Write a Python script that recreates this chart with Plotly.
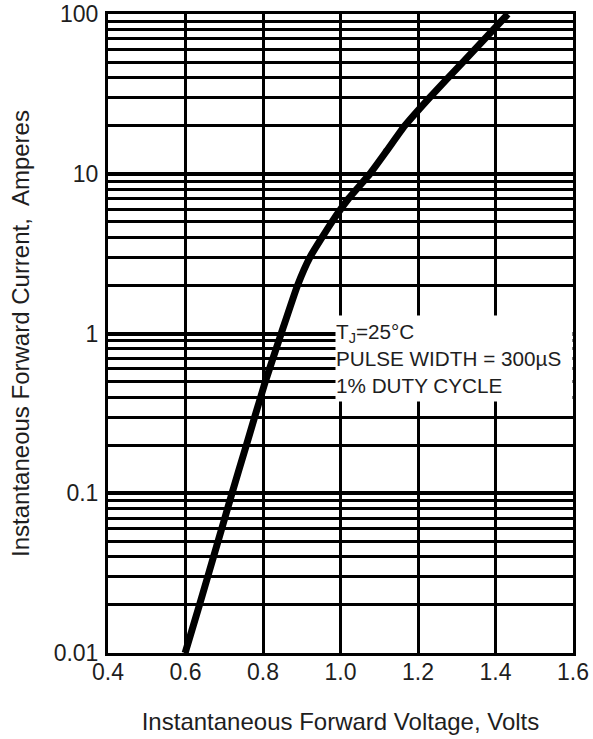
import math
import plotly.graph_objects as go

# Forward characteristic
voltage = [0.599, 0.636, 0.684, 0.720, 0.757, 0.806, 0.847, 0.889, 0.921,
           0.978, 1.021, 1.076, 1.120, 1.166, 1.230, 1.316, 1.432]
current = [0.01, 0.02, 0.05, 0.1, 0.2, 0.5, 1, 2, 3,
           5, 7, 10, 14, 20, 30, 50, 100]

x_ticks = [0.4, 0.6, 0.8, 1.0, 1.2, 1.4, 1.6]
x_labels = ["0.4", "0.6", "0.8", "1.0", "1.2", "1.4", "1.6"]
y_ticks = [0.01, 0.1, 1, 10, 100]
y_labels = ["0.01", "0.1", "1", "10", "100"]
y_minor = [m * 10 ** e for e in range(-2, 2) for m in range(2, 10)]

note_lines = ["T<sub>J</sub>=25°C", "PULSE WIDTH = 300µS", "1% DUTY CYCLE"]
note_x = 0.986      # volts, left edge of the note box
note_top = 1.306    # amperes, top edge of the note box

FONT = "Liberation Sans, Arial, sans-serif"
TXT = "#1e1e1e"

fig = go.Figure()
fig.add_trace(go.Scatter(x=voltage, y=current, mode="lines",
                         line=dict(color="black", width=7, shape="spline", smoothing=0.4),
                         showlegend=False, hoverinfo="skip"))

fig.add_annotation(x=note_x, y=math.log10(note_top), xref="x", yref="y",
                   xanchor="left", yanchor="top",
                   text="<br>".join(note_lines), showarrow=False,
                   align="left", valign="middle", width=236, height=85,
                   bgcolor="white", borderpad=0,
                   font=dict(family=FONT, size=20.7, color=TXT))

fig.update_xaxes(range=[0.4, 1.6], tickvals=x_ticks, ticktext=x_labels,
                 showgrid=True, gridcolor="black", gridwidth=3,
                 showline=True, linecolor="black", linewidth=3, mirror=True,
                 ticks="", zeroline=False, ticklabelstandoff=-4, automargin=False,
                 ticklabeloverflow="allow",
                 tickfont=dict(family=FONT, size=23, color=TXT),
                 title=dict(text="Instantaneous Forward Voltage, Volts",
                            font=dict(family=FONT, size=24, color=TXT),
                            standoff=30))
fig.update_yaxes(type="log", range=[-2, 2], tickvals=y_ticks, ticktext=y_labels,
                 showgrid=True, gridcolor="black", gridwidth=3.5,
                 minor=dict(tickvals=y_minor, showgrid=True, gridcolor="black",
                            gridwidth=2.5, ticks=""),
                 showline=True, linecolor="black", linewidth=3, mirror=True,
                 ticks="", zeroline=False, ticklabelstandoff=2, automargin=False,
                 ticklabeloverflow="allow",
                 tickfont=dict(family=FONT, size=23, color=TXT),
                 title=dict(text="Instantaneous Forward Current,  Amperes",
                            font=dict(family=FONT, size=24, color=TXT),
                            standoff=18))

fig.update_layout(width=593, height=739,
                  margin=dict(l=108, r=20, t=14, b=86, autoexpand=False),
                  plot_bgcolor="white", paper_bgcolor="white")

# remove the browser's default 8 px page margin so the figure fills the window
fig.write_html("out.html", config={"displayModeBar": False},
               post_script="document.body.style.margin='0';document.body.style.overflow='hidden';")
